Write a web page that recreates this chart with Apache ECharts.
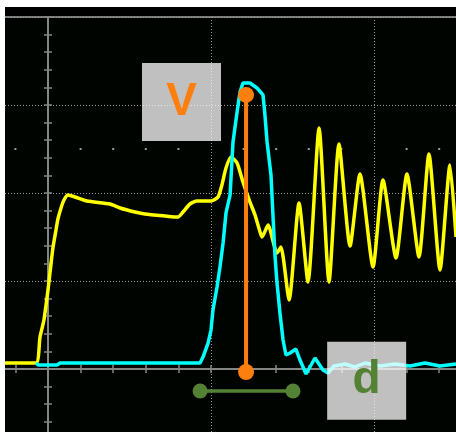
<!DOCTYPE html>
<html>
<head>
<meta charset="utf-8">
<script src="https://cdn.jsdelivr.net/npm/echarts@6/dist/echarts.min.js"></script>
<style>
  html, body { margin: 0; padding: 0; background: #fff; }
  #scope { position: absolute; left: 5px; top: 7px; width: 451px; height: 425px; }
</style>
</head>
<body>
<div id="scope"></div>
<script>
// scope readout, 10 units per division
var yellowTrace = [
  [-2.64, 0.68], [-0.74, 0.68], [-0.49, 3.64], [-0.25, 5.57], [0, 8.98], [0.12, 10.91],
  [0.31, 13.86], [0.49, 15.8], [0.61, 17.05], [0.8, 18.3], [0.98, 19.2], [1.23, 19.77],
  [1.66, 19.55], [2.39, 19.09], [3.8, 18.75], [4.42, 18.3], [5.34, 17.84], [5.95, 17.61],
  [7.18, 17.39], [7.98, 17.27], [8.28, 17.84], [8.71, 18.75], [9.14, 19.09], [10.0, 19.09],
  [10.43, 19.55], [10.67, 20.91], [10.92, 22.84], [11.23, 24.09], [11.6, 23.41], [11.96, 21.25],
  [12.39, 18.98], [12.7, 17.5], [13.01, 15.57], [13.13, 15.0], [13.5, 16.36], [14.05, 13.18],
  [14.29, 13.86], [14.79, 7.84], [15.4, 18.86], [15.95, 9.89], [16.63, 27.39], [17.24, 9.89],
  [17.85, 25.57], [18.53, 13.98], [19.14, 22.16], [19.94, 11.59], [20.55, 21.48], [21.35, 12.61],
  [22.02, 22.16], [22.76, 12.73], [23.37, 24.43], [24.05, 11.25], [24.66, 23.18], [25.03, 15.0]
];
var cyanTrace = [
  [-0.74, 0.68], [-0.6, 0.45], [0.55, 0.45], [0.74, 0.68], [9.33, 0.68], [9.51, 1.36],
  [9.82, 2.95], [10.0, 4.43], [10.12, 6.7], [10.37, 9.32], [10.55, 11.59], [10.74, 14.32],
  [10.92, 17.73], [11.17, 19.77], [11.35, 25.8], [11.6, 29.2], [11.78, 31.48], [11.96, 32.5],
  [12.39, 32.5], [12.82, 31.93], [13.19, 31.14], [13.31, 28.86], [13.44, 25.8], [13.68, 22.05],
  [13.8, 17.5], [13.93, 12.73], [14.05, 9.77], [14.23, 6.36], [14.42, 3.3], [14.6, 1.59],
  [14.85, 1.82], [15.21, 2.27], [15.46, 1.02], [15.83, -0.57], [16.38, 1.25], [16.87, -0.11],
  [17.18, -0.45], [17.55, 0.34], [18.22, 0.57], [18.83, 0.23], [19.45, 0.68], [20.37, 0.34],
  [21.29, 0.57], [22.21, 0.34], [23.13, 0.68], [24.05, 0.34], [25.03, 0.57]
];
var peakMarker = [[12.15, 31.14], [12.15, -0.34]];
var widthMarker = [[9.33, -2.5], [15.03, -2.5]];
var dotRowX = [-2, 2, 4, 6, 8, 12, 14, 16, 18, 22, 24, 26, 28];
var dotRowY = 25;
var boxLabels = ['V', 'd'];
var boxPoints = [[8.19, 30.34], [19.55, -1.34]];
var boxColors = ['#ff7f0e', '#548235'];

var chart = echarts.init(document.getElementById('scope'));

function axisBase(pos, min, max) {
  return {
    type: 'value', position: pos, min: min, max: max, interval: 10,
    axisLine: { show: true, onZero: true, lineStyle: { color: '#858585', width: 2 } },
    axisTick: { show: true, length: 4, lineStyle: { color: '#858585', width: 1.5 } },
    minorTick: { show: true, splitNumber: 5, length: 4, lineStyle: { color: '#858585', width: 1.5 } },
    axisLabel: { show: false },
    splitLine: { show: false }
  };
}

var xMain = axisBase('bottom', -10, 30);
xMain.splitLine = { show: true, lineStyle: { color: '#9a9a9a', width: 1, type: [1, 2] } };
var yMain = axisBase('left', -10, 40);
yMain.splitLine = { show: true, lineStyle: { color: '#9a9a9a', width: 1, type: [1, 2] } };

chart.setOption({
  animation: false,
  backgroundColor: '#000000',
  grid: {
    left: -120, top: 10, width: 652, height: 440,
    outerBoundsMode: 'none', containLabel: false,
    show: true, backgroundColor: '#000400', borderColor: '#7a7a7a', borderWidth: 2
  },
  xAxis: [xMain, axisBase('top', -10, 30)],
  yAxis: [yMain, axisBase('right', -10, 40)],
  series: [
    {
      type: 'scatter', data: dotRowX.map(function (x) { return [x, dotRowY]; }),
      symbol: 'rect', symbolSize: 2, itemStyle: { color: '#9a9a9a', opacity: 1 }, silent: true
    },
    {
      name: 'CH1', type: 'line', data: yellowTrace, showSymbol: false,
      smooth: 0.2,
      lineStyle: { color: '#ffff00', width: 3.5 }, z: 3
    },
    {
      name: 'CH2', type: 'line', data: cyanTrace, showSymbol: false,
      lineStyle: { color: '#00ffff', width: 3.5 }, z: 4
    },
    {
      type: 'line', data: peakMarker, symbol: 'circle', symbolSize: 16,
      lineStyle: { color: '#ff7f0e', width: 4 }, itemStyle: { color: '#ff7f0e' }, z: 5
    },
    {
      type: 'line', data: widthMarker, symbol: 'circle', symbolSize: 15,
      lineStyle: { color: '#548235', width: 3.5 }, itemStyle: { color: '#548235' }, z: 5
    },
    {
      type: 'scatter', z: 6, symbol: 'rect', symbolSize: [79, 78],
      itemStyle: { color: 'rgba(255,255,255,0.75)', opacity: 1 },
      data: boxPoints.map(function (p, i) {
        return {
          value: p,
          label: {
            show: true, position: 'inside', formatter: boxLabels[i],
            color: boxColors[i], fontSize: 46, fontWeight: 'bold', fontFamily: 'Liberation Sans'
          }
        };
      })
    }
  ]
});
</script>
</body>
</html>
